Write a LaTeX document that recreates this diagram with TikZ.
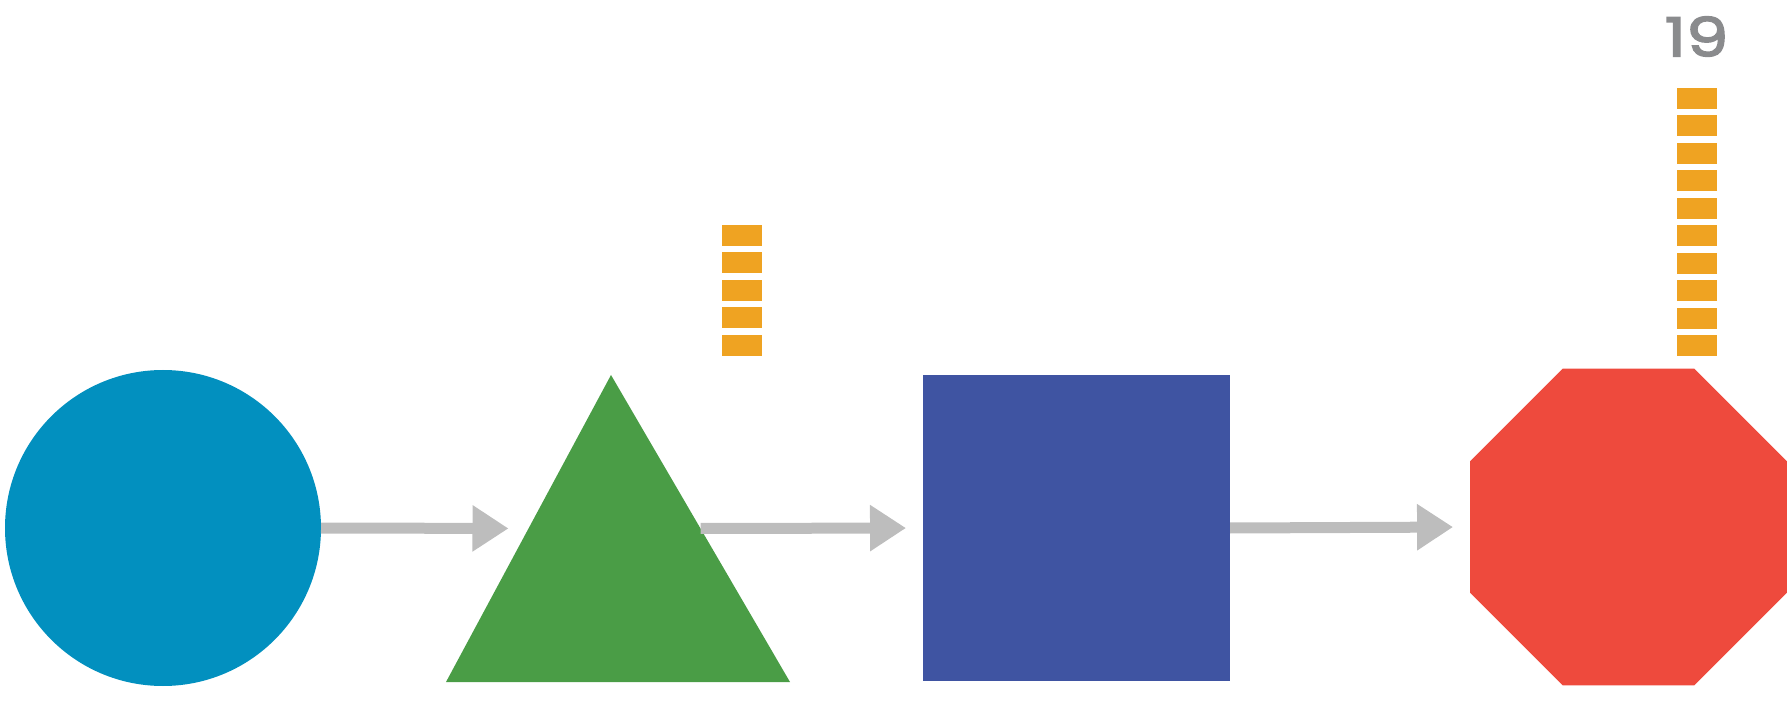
\documentclass[tikz,border=0pt]{standalone}
\usepackage{fontspec}
\setmainfont{Poppins}
\newfontfamily\numfont[FakeBold=3,FakeStretch=1.25]{Poppins}
\usetikzlibrary{shapes.geometric,arrows.meta,positioning,calc}
\definecolor{cblue}{HTML}{0290BF}
\definecolor{cgreen}{HTML}{4A9D46}
\definecolor{cnavy}{HTML}{3F54A2}
\definecolor{cred}{HTML}{EE4A3D}
\definecolor{cbar}{HTML}{EFA322}
\definecolor{carrow}{HTML}{BDBDBD}
\definecolor{ctext}{HTML}{8A8B8D}
\tikzset{
  shp/.style={draw=none,inner sep=0pt,outer sep=0pt},
  bar/.style={fill=cbar,minimum width=4mm,minimum height=2.1mm,inner sep=0pt},
  flow/.style={draw=carrow,line width=1.1mm,-{Triangle[length=3.6mm,width=4.4mm]}}
}
\begin{document}
\begin{tikzpicture}[x=0.1mm,y=-0.1mm]
\useasboundingbox (0,0) rectangle (1792,719);
\node[shp,circle,fill=cblue,minimum size=31.6mm] (circ) at (163,528) {};
\coordinate (tA) at (611,375);
\coordinate (tB) at (446,682);
\coordinate (tC) at (790,682);
\fill[cgreen] (tA) -- (tB) -- (tC) -- cycle;
\coordinate (tL) at ($(tA)!0.5!(tB)$);
\coordinate (tR) at ($(tA)!0.5!(tC)$);
\node[shp,rectangle,fill=cnavy,minimum width=30.7mm,minimum height=30.6mm] (sq) at (1076.5,528) {};
\node[shp,regular polygon,regular polygon sides=8,fill=cred,minimum size=34.3mm] (oct) at (1628.5,527) {};
\foreach \i in {0,...,4}
  \node[bar] (tb\i) at (742,235.5+27.5*\i) {};
\foreach \i in {0,...,9}
  \node[bar] (ob\i) at (1697,98.5+27.5*\i) {};
\node[text=ctext,font=\numfont\fontsize{15.3}{15.3}\selectfont,inner sep=0pt] (cnt) at (1696.5,36.5) {19};
\draw[flow,shorten >=2mm] (circ.east) -- (tL);
\draw[flow,shorten >=1.7mm] (tR) -- (sq.west);
\draw[flow,shorten >=1.7mm] (sq.east) -- (oct.west);
\end{tikzpicture}
\end{document}
